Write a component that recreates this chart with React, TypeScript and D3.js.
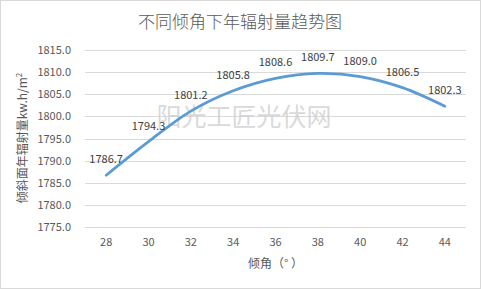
import React, { useEffect, useRef } from "react";
import * as d3 from "d3";

const angles = ["28", "30", "32", "34", "36", "38", "40", "42", "44"];
const radiation = [1786.7, 1794.3, 1801.2, 1805.8, 1808.6, 1809.7, 1809.0, 1806.5, 1802.3];
const yTicks = [1775, 1780, 1785, 1790, 1795, 1800, 1805, 1810, 1815];

const title = "不同倾角下年辐射量趋势图";
const xTitle = "倾角（° ）";
const watermark = "阳光工匠光伏网";

const width = 481;
const height = 289;
const font = "'Noto Sans CJK SC', 'Noto Sans', sans-serif";

const App = () => {
  const ref = useRef<SVGSVGElement>(null);

  useEffect(() => {
    drawChart();
  }, []);

  const drawChart = () => {
    const svg = d3.select(ref.current);
    svg.selectAll("*").remove();

    const left = 85;
    const right = 466;
    const top = 50;
    const bottom = 227;

    const x = d3.scaleBand().domain(angles).range([left, right]);
    const y = d3.scaleLinear().domain([1775, 1815]).range([bottom, top]);

    // chart border
    svg
      .append("rect")
      .attr("x", 0.5)
      .attr("y", 0.5)
      .attr("width", width - 1)
      .attr("height", height - 1)
      .attr("fill", "#fff")
      .attr("stroke", "#d9d9d9");

    svg
      .append("text")
      .attr("x", 240)
      .attr("y", 28)
      .attr("text-anchor", "middle")
      .attr("font-family", font)
      .attr("font-size", 17)
      .attr("font-weight", 300)
      .attr("fill", "#595959")
      .text(title);

    // gridlines
    svg
      .append("g")
      .selectAll("line")
      .data(yTicks)
      .enter()
      .append("line")
      .attr("x1", left)
      .attr("x2", right)
      .attr("y1", (d) => Math.round(y(d)) + 0.5)
      .attr("y2", (d) => Math.round(y(d)) + 0.5)
      .attr("stroke", "#d9d9d9");

    svg
      .append("g")
      .selectAll("text")
      .data(yTicks)
      .enter()
      .append("text")
      .attr("x", 71)
      .attr("y", (d) => y(d) + 4)
      .attr("text-anchor", "end")
      .attr("font-family", font)
      .attr("font-size", 11)
      .attr("fill", "#595959")
      .text((d) => d.toFixed(1));

    svg
      .append("g")
      .selectAll("text")
      .data(angles)
      .enter()
      .append("text")
      .attr("x", (d) => x(d)! + x.bandwidth() / 2)
      .attr("y", 246)
      .attr("text-anchor", "middle")
      .attr("font-family", font)
      .attr("font-size", 11)
      .attr("fill", "#595959")
      .text((d) => d);

    svg
      .append("text")
      .attr("x", (left + right) / 2)
      .attr("y", 268)
      .attr("text-anchor", "middle")
      .attr("font-family", font)
      .attr("font-size", 12)
      .attr("fill", "#595959")
      .text(xTitle);

    // y axis title, rotated
    const yt = svg
      .append("text")
      .attr("transform", "translate(27,138) rotate(-90)")
      .attr("text-anchor", "middle")
      .attr("font-family", font)
      .attr("font-size", 12)
      .attr("fill", "#595959");
    yt.append("tspan").text("倾斜面年辐射量kw.h/m");
    yt.append("tspan").attr("font-size", 8).attr("dy", -5).text("2");

    // watermark
    svg
      .append("text")
      .attr("x", 244)
      .attr("y", 126)
      .attr("text-anchor", "middle")
      .attr("font-family", font)
      .attr("font-size", 25)
      .attr("fill", "#cfcfcf")
      .attr("fill-opacity", 0.8)
      .text(watermark);

    const cx = (d: string) => x(d)! + x.bandwidth() / 2;

    const line = d3
      .line<number>()
      .x((d, i) => cx(angles[i]))
      .y((d) => y(d))
      .curve(d3.curveCatmullRom.alpha(0.5));

    svg
      .append("path")
      .datum(radiation)
      .attr("d", line)
      .attr("fill", "none")
      .attr("stroke", "#5b9bd5")
      .attr("stroke-width", 2.75)
      .attr("stroke-linecap", "round");

    svg
      .append("g")
      .selectAll("text")
      .data(radiation)
      .enter()
      .append("text")
      .attr("x", (d, i) => cx(angles[i]))
      .attr("y", (d) => y(d) - 12)
      .attr("text-anchor", "middle")
      .attr("font-family", font)
      .attr("font-size", 11)
      .attr("fill", "#404040")
      .text((d) => d.toFixed(1));
  };

  return (
    <>
      <style>{`body{margin:0}`}</style>
      <svg ref={ref} width={width} height={height} style={{ display: "block" }} />
    </>
  );
};

export default App;
